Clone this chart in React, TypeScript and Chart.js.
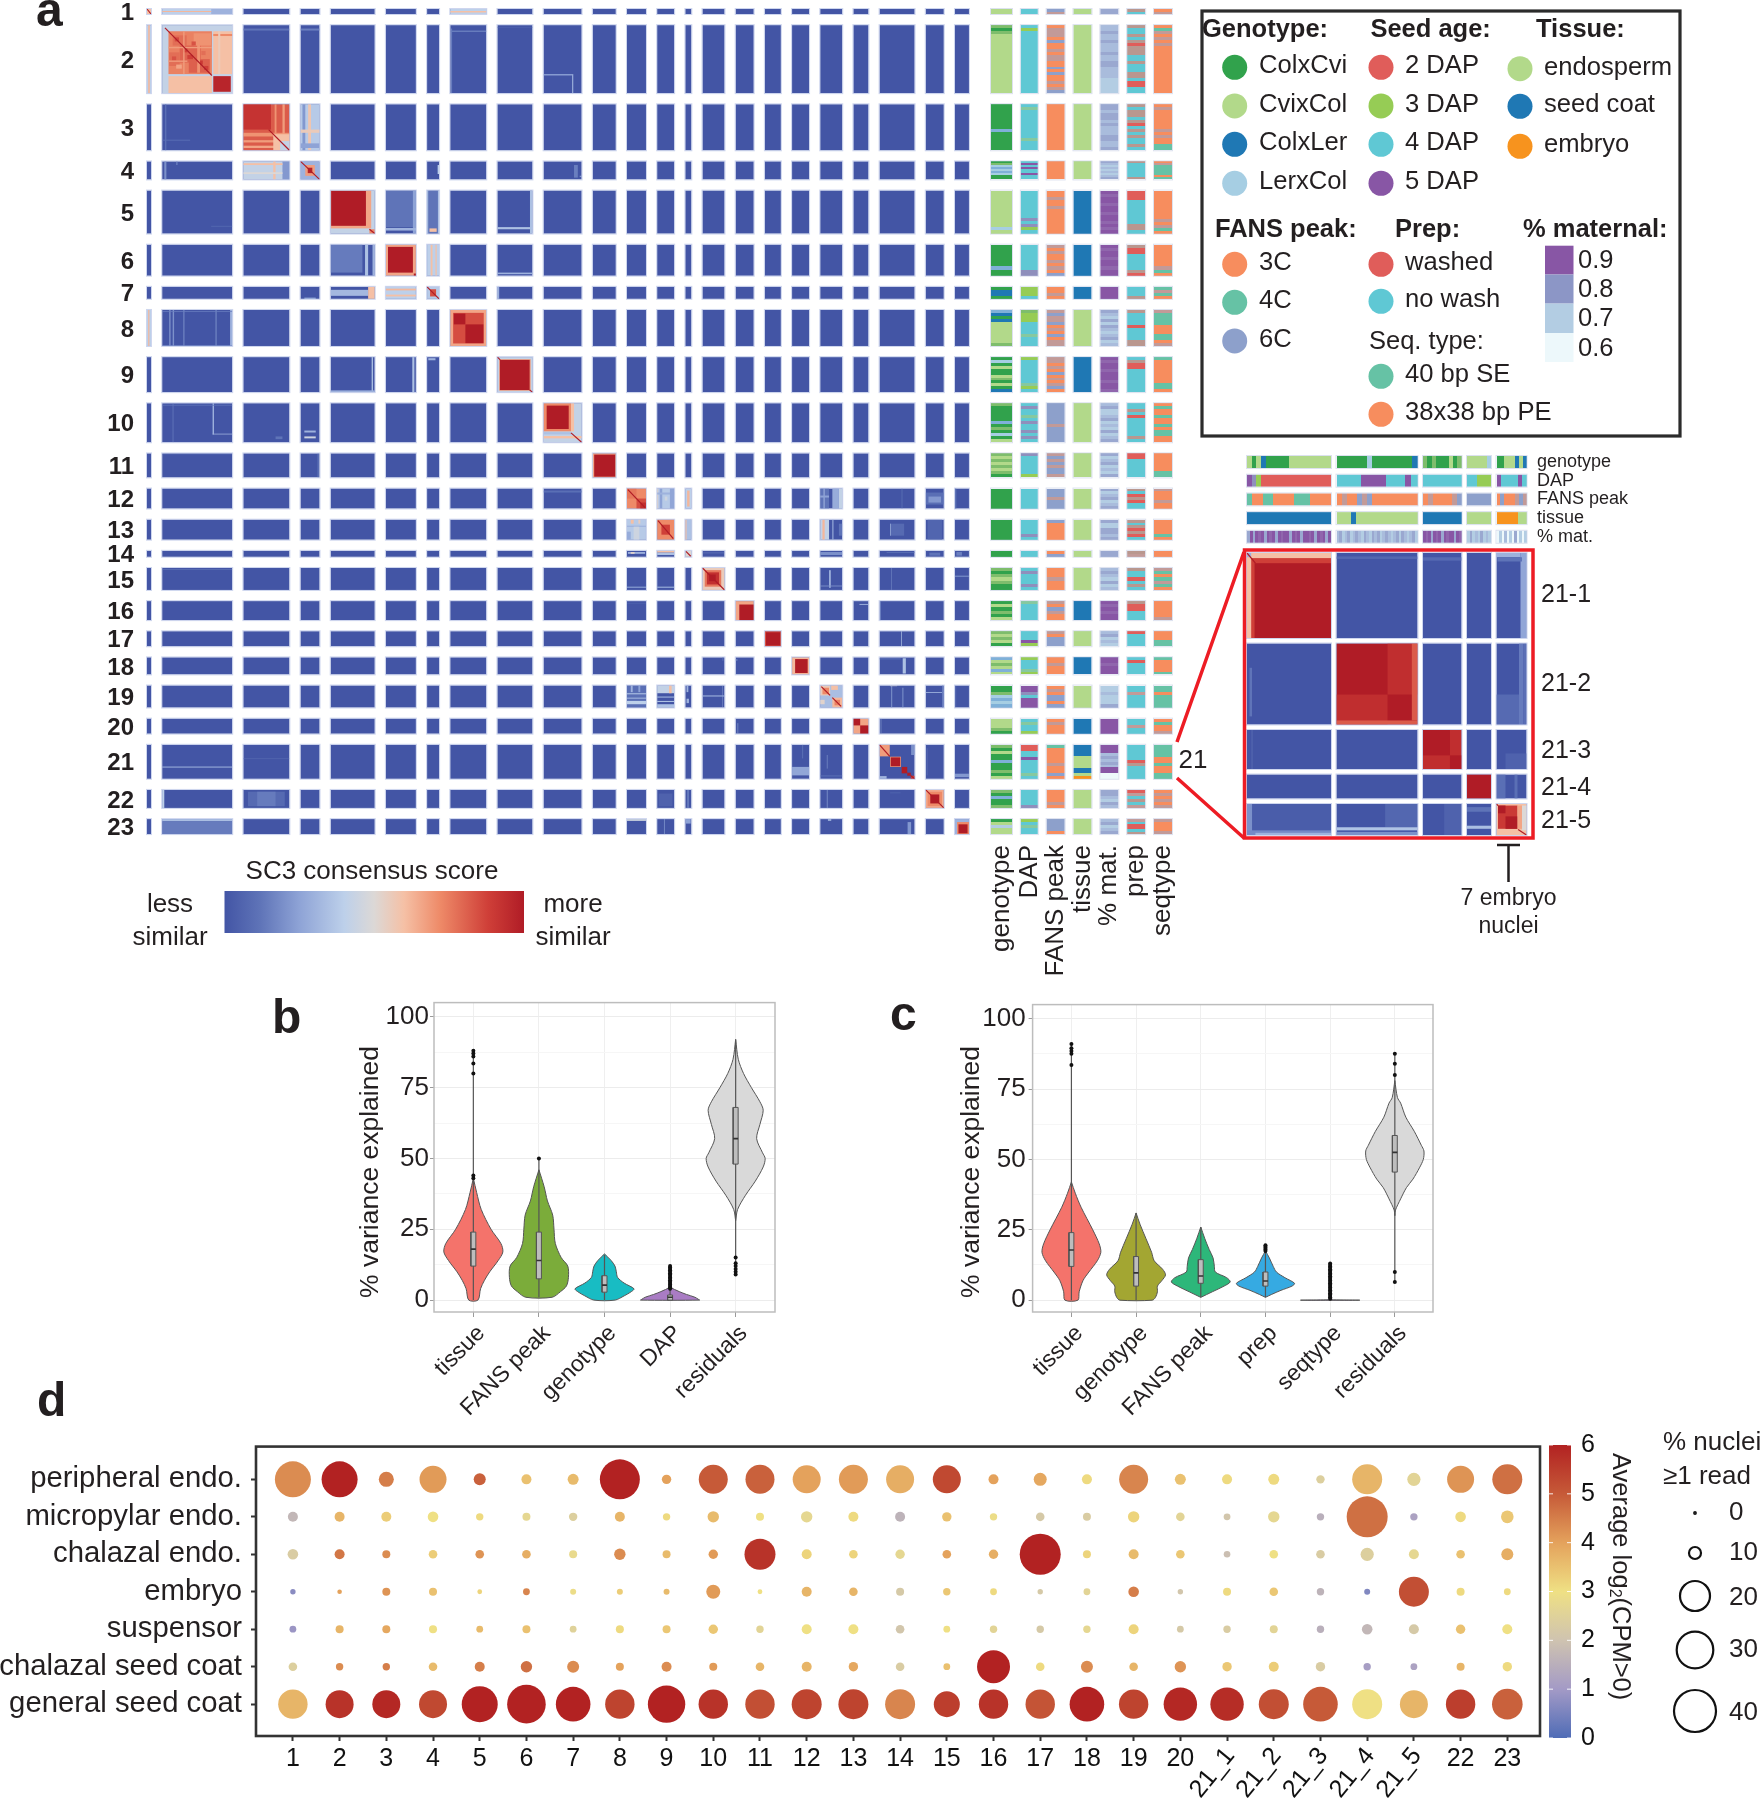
import React, { useEffect, useRef } from 'react';
import { Chart, registerables } from 'chart.js';
Chart.register(...registerables);

const FONT = '"Liberation Sans", Arial, sans-serif';
Chart.defaults.font.family = FONT;
Chart.defaults.color = '#231f20';

/* ---------- panel a: cluster sizes ---------- */
const clusterLabels = ['1','2','3','4','5','6','7','8','9','10','11','12','13','14','15','16','17','18','19','20','21','22','23'];
const colWidths = [4,70,46,19,44,30,12,36,35,38,23,19,17,6,22,18,16,17,22,15,35,18,14];
const rowHeights = [5,68,46,18,43,31,12,36,35,39,24,20,20,6,22,19,15,17,22,15,34,18,15];
const trackNames = ['genotype','DAP','FANS peak','tissue','% mat.','prep','seqtype'];
const trackWidths = [21,17,18,18,18,18,18];

/* SC3 consensus score stops */
const consensusStops: [number, string][] = [[0,'#4355a5'],[0.12,'#5f74b8'],[0.25,'#8ea3d6'],[0.4,'#bdd0ea'],[0.5,'#dcd8d6'],[0.6,'#f5c0a5'],[0.72,'#ee8a68'],[0.88,'#cf3f38'],[1,'#b01c26']];

/* [row, col, x0, y0, x1, y1, score] fractions of a cell, 1-based cluster index */
const heatPatches: number[][] = [
[1,1,0,0,1,1,.6],[1,2,0,0,1,1,.4],[1,2,.7,0,1,1,.3],[1,2,0,.4,.7,.6,.62],[1,8,0,0,1,1,.4],[1,8,0,.4,1,.7,.6],
[2,1,0,0,1,1,.4],[2,1,.3,0,.7,1,.62],
[2,2,0,0,1,1,.42],[2,2,.09,.09,.71,.72,.74],[2,2,.73,.09,1,.72,.6],[2,2,.09,.75,.71,1,.6],[2,2,.73,.75,.98,.98,.97],
[2,2,.15,.15,.35,.3,.78],[2,2,.25,.3,.55,.55,.8],[2,2,.38,.5,.68,.7,.81],[2,2,.1,.4,.25,.6,.78],[2,2,.45,.12,.7,.3,.7],[2,2,.73,.13,1,.16,.72],[2,2,.8,.09,.83,.72,.56],
[2,2,.18,.18,.24,.24,.86],[2,2,.3,.34,.36,.4,.88],[2,2,.42,.24,.48,.3,.84],[2,2,.36,.44,.44,.5,.88],[2,2,.5,.52,.58,.58,.9],[2,2,.6,.6,.66,.66,.88],[2,2,.14,.46,.2,.52,.84],[2,2,.56,.38,.62,.44,.78],[2,2,.2,.58,.28,.64,.66],[2,2,.5,.16,.54,.7,.7],[2,2,.09,.32,.71,.34,.68],[2,2,.3,.09,.32,.72,.68],[2,2,.09,.52,.36,.54,.68],
[2,3,0,.05,1,.08,.12],[2,4,0,.05,1,.08,.15],[2,8,.03,.05,.05,1,.2],[2,8,0,.08,1,.1,.15],[2,10,.75,.72,.78,1,.3],[2,10,0,.72,.75,.74,.25],[2,9,0,.03,1,.04,.05],
[3,2,.04,0,.06,1,.1],[3,2,0,.77,.4,.79,.1],
[3,3,0,0,1,1,.82],[3,3,0,0,.6,.55,.92],[3,3,0,.62,1,.7,.7],[3,3,0,.78,1,.83,.68],[3,3,0,.9,1,.95,.66],[3,3,.68,0,.72,.65,.7],[3,3,.85,0,.9,.65,.68],[3,3,.65,.65,1,1,.6],[3,3,.8,.8,1,1,.42],
[3,4,0,0,1,1,.38],[3,4,.1,0,.25,1,.22],[3,4,.4,0,.55,1,.58],[3,4,0,.55,1,.62,.56],[3,4,0,.85,1,.95,.25],
[4,2,.03,0,.06,1,.2],[4,2,.2,0,.22,.2,.15],
[4,3,0,0,1,1,.42],[4,3,.85,0,1,1,.22],[4,3,0,.1,.85,.2,.6],[4,3,.65,0,.7,1,.6],[4,3,0,.6,.85,.7,.5],
[4,4,0,0,1,1,.3],[4,4,.25,.2,.75,.8,.68],[4,4,.38,.35,.62,.65,.98],
[4,7,.88,.2,1,.7,.4],[4,10,.8,.2,.9,.9,.15],[4,10,.95,.8,1,.85,.3],
[5,5,0,0,1,1,.42],[5,5,0,0,.92,.88,.66],[5,5,.01,.01,.8,.82,1],[5,5,.88,.9,1,1,.72],
[5,6,0,0,1,.85,.12],[5,6,.9,0,1,1,.25],[5,6,0,.87,1,.93,.3],
[5,7,.1,0,.9,1,.12],[5,7,0,0,.1,1,.35],[5,7,.9,0,1,1,.35],[5,7,.2,.88,.8,.96,.6],
[5,9,.93,0,1,1,.35],[5,9,0,.85,1,.9,.35],[5,2,.7,.82,1,.84,.08],
[6,5,0,0,.72,.9,.14],[6,5,.78,0,.85,1,.35],[6,5,.95,0,1,1,.3],
[6,6,0,0,1,1,.66],[6,6,.07,.07,.9,.9,1],[6,6,.93,.93,1,1,1],
[6,7,0,0,1,1,.4],[6,7,.3,0,.45,1,.6],[6,7,.7,0,.8,1,.6],[6,9,0,.9,1,.95,.3],
[7,5,0,.25,.85,.75,.32],[7,5,.85,0,1,1,.6],[7,6,0,0,1,1,.4],[7,6,0,.15,1,.3,.62],[7,6,0,.65,1,.8,.6],
[7,7,0,0,1,1,.38],[7,7,.25,.2,.75,.8,.85],[7,9,0,0,.05,1,.3],[7,4,.2,.9,.8,1,.3],
[8,1,0,0,1,1,.4],[8,1,.3,0,.6,1,.62],
[8,2,.1,0,.12,1,.2],[8,2,.15,0,.17,1,.2],[8,2,.3,0,.32,1,.15],[8,2,.76,0,.78,1,.15],[8,2,.97,0,1,1,.3],[8,2,0,.98,1,1,.2],[8,2,0,.03,1,.05,.15],
[8,8,0,0,1,1,.66],[8,8,.08,.08,.93,.93,.85],[8,8,.1,.1,.42,.4,1],[8,8,.42,.4,.92,.92,1],
[9,5,.93,0,.96,1,.35],[9,5,0,.95,1,1,.3],[9,6,.88,0,.95,1,.35],[9,7,.1,.03,.7,.09,.3],
[9,9,0,0,1,1,.42],[9,9,.05,.06,.95,.96,.68],[9,9,.07,.08,.92,.94,1],
[10,2,.72,0,.74,.8,.3],[10,2,.72,.78,1,.8,.3],[10,2,.15,0,.16,1,.15],[10,2,0,.04,1,.06,.12],[10,4,.2,.7,.8,.75,.3],[10,4,.2,.85,.8,.9,.45],[10,3,.7,.85,.85,.92,.12],
[10,10,0,0,1,1,.42],[10,10,0,0,.72,.72,.72],[10,10,.08,.06,.66,.66,1],[10,10,0,.74,.72,.8,.35],[10,10,0,.84,1,.9,.6],[10,10,.72,0,.8,.72,.6],
[11,11,0,0,1,1,.66],[11,11,.06,.05,.97,.97,1],[11,4,.9,0,.95,1,.15],[11,2,0,.02,1,.04,.08],
[12,10,.0,.1,1,.2,.1],[12,12,0,0,1,1,.72],[12,12,.5,.5,1,1,.85],[12,12,0,0,.5,.5,.76],[12,12,.7,.7,1,1,.94],
[12,13,0,0,1,1,.38],[12,13,.15,0,.3,1,.25],[12,13,0,0,.06,1,.52],[12,13,0,.2,1,.3,.3],[12,13,.75,0,1,1,.26],[12,13,.45,.4,.6,.6,.45],
[12,14,0,0,1,1,.4],[12,14,.3,.1,.7,.9,.62],[12,19,0,0,.4,1,.12],[12,19,.15,0,.2,1,.3],[12,19,.55,0,.85,1,.28],[12,19,.85,0,1,1,.42],[12,19,0,.35,.4,.45,.25],
[12,21,.63,0,.65,1,.12],[12,22,0,.2,1,.8,.1],[12,22,.15,.4,.85,.7,.22],[12,23,0,0,.1,1,.12],
[13,12,0,0,1,1,.38],[13,12,.2,0,.35,.2,.6],[13,12,.6,0,.7,.2,.55],[13,12,0,.3,1,.36,.3],[13,12,.35,.35,.65,1,.45],[13,12,0,.6,.2,1,.28],
[13,13,0,0,1,1,.72],[13,13,.25,.25,.75,.75,.88],[13,14,0,0,1,1,.35],[13,14,0,0,.2,1,.6],
[13,19,0,0,.4,1,.42],[13,19,.1,0,.2,1,.62],[13,19,.55,0,.6,1,.3],[13,19,.85,.2,1,.8,.12],[13,21,.3,.2,.7,.8,.08],[13,21,.3,.2,.32,.8,.3],[13,22,.1,0,.9,1,.06],
[14,12,.05,.2,.95,.5,.3],[14,12,.2,.2,.4,.5,.52],[14,13,0,0,1,.3,.6],[14,13,0,.3,1,.7,.35],[14,14,0,0,1,1,.5],[14,15,0,.3,1,.4,.15],[14,19,0,.2,1,.7,.2],[14,22,.2,.3,.8,.8,.12],[14,23,.1,.2,.5,.8,.15],[14,21,.2,.2,1,.35,.1],
[15,2,0,.06,1,.09,.12],[15,12,0,.85,1,.9,.25],[15,13,0,.85,1,.9,.3],[15,15,0,0,1,1,.56],[15,15,.1,.1,.85,.85,.76],[15,15,.2,.2,.75,.75,.93],[15,15,.3,.3,.6,.6,1],
[15,19,.4,.1,.48,.9,.3],[15,19,0,.8,1,.84,.2],[15,21,.33,0,.35,1,.15],[15,23,0,.35,1,.4,.2],[15,22,.98,0,1,1,.3],
[16,16,0,0,1,1,.66],[16,16,.2,.18,1,1,1],[16,20,.4,.15,1,.2,.3],[16,21,.02,0,.04,1,.2],[16,12,0,.1,1,.12,.08],
[17,17,0,0,1,1,.84],[17,17,.07,.07,.95,.95,1],[17,21,.62,0,.64,1,.35],
[18,18,0,0,1,1,.62],[18,18,.18,.1,.92,.92,1],[18,21,.66,.05,.75,.95,.35],[18,21,0,.05,.6,.12,.1],[18,16,0,.1,.1,.2,.15],[18,15,.9,0,.95,.2,.1],
[19,12,0,0,1,1,.1],[19,12,0,.35,1,.4,.35],[19,12,0,.55,1,.6,.3],[19,12,0,.7,1,.85,.4],[19,12,.2,0,.3,.3,.3],[19,12,.6,0,.7,.3,.25],
[19,13,0,0,1,.35,.42],[19,13,.7,0,.85,.35,.6],[19,13,0,.5,1,.55,.3],[19,13,0,.7,1,.75,.35],[19,13,0,.85,1,1,.35],
[19,14,.2,0,.5,.3,.3],[19,14,.2,.6,.6,.8,.3],[19,15,0,.45,1,.5,.3],[19,15,.9,0,.92,1,.25],
[19,19,0,0,1,1,.34],[19,19,0,0,.45,.45,.56],[19,19,.1,.1,.4,.4,.72],[19,19,.55,.55,1,1,.62],[19,19,.65,.65,.9,.9,.74],[19,19,.5,0,.8,.2,.6],[19,19,0,.65,.2,.85,.52],
[19,21,.33,0,.36,1,.2],[19,21,.65,.1,.68,1,.2],[19,21,.3,0,.5,.03,.5],[19,22,0,.3,1,.34,.3],[19,23,.05,0,.08,1,.2],[19,22,.9,0,1,1,.14],
[20,16,.1,.3,.14,1,.2],[20,20,0,0,1,1,.66],[20,20,0,0,.45,.45,1],[20,20,.45,.45,1,1,1],[20,21,.03,0,.05,1,.2],
[21,2,0,.64,1,.67,.3],[21,18,0,.65,1,.9,.26],[21,18,.6,0,.65,.4,.12],[21,19,.3,.3,.33,.7,.2],[21,19,0,.9,1,.93,.1],[21,22,.05,.1,.1,.9,.08],[21,23,0,.85,1,.95,.22],[21,3,0,.4,1,.42,.08],
[21,21,0,0,.29,.34,.68],[21,21,.3,.35,.61,.65,.68],[21,21,.32,.37,.59,.63,1],[21,21,.63,.65,.79,.84,1],[21,21,.79,.82,.89,.91,1],[21,21,.89,.91,1,1,.88],[21,21,.9,0,1,.3,.2],[21,21,0,.92,.2,1,.3],
[22,2,0,0,.03,1,.4],[22,3,.1,.1,.9,.9,.08],[22,3,.3,.1,.7,.9,.14],[22,13,.1,.2,.9,.9,.05],[22,19,.3,0,.33,1,.25],[22,21,.3,.15,.6,.18,.1],[22,14,.3,0,.6,1,.14],
[22,22,0,0,1,1,.65],[22,22,.1,.1,.9,.9,.72],[22,22,.25,.25,.75,.75,1],
[23,2,0,0,1,.15,.34],[23,2,0,.15,1,1,.14],[23,12,0,0,1,.12,.45],[23,13,.4,0,.45,1,.2],[23,14,.1,0,.9,.3,.25],[23,21,.8,.2,.9,1,.22],[23,19,.35,0,.5,.12,.3],
[23,23,0,0,1,1,.3],[23,23,.15,.2,1,1,.72],[23,23,.25,.35,.9,.95,1],
];
const heatDiagonals: number[][] = [
[1,1,0,0,1,1],[2,2,.04,.04,.71,.74],[3,3,.55,.55,1,1],[4,4,0,0,1,1],[5,5,.88,.9,1,1],[7,7,0,0,1,1],[9,9,0,0,.08,.08],[9,9,.92,.94,1,1],[10,10,.72,.76,1,1],
[12,12,.05,.05,.95,.95],[13,13,.05,.05,.95,.95],[14,14,.1,.1,.9,.9],[15,15,0,0,1,1],[19,19,.05,.05,.45,.45],[19,19,.55,.55,.95,.95],[21,21,0,0,.29,.34],[21,21,.88,.9,1,1],[22,22,0,0,1,1],
];

/* annotation tracks: one letter per stripe, read top to bottom */
const genotypeTrack = ['L','hGhLLLLLLLLLLLLLLLLLLLL','GGGGGGGGkGGGGGG','GhSkSkSGG','LLLLLLLLLLLLSL','GGGGGGGkGG','GBBG','kBGBLLLLLLLh','GSGLGGLhGLGB','hGGGGGkGhGSGL','hLhLhLhG','G','G','G','hGhLhGG','GLGhGL','hLhLG','kLhLkL','GGhSkSk','LLLhG','hGLGGkGGhGL','hGkGGh','GLxLL'];
const dapTrack = ['T','TYTTTTTTTTTTTTTTTTTTTTT','TuTTTTTTTTTuTTT','TPTPTTPTT','TTTTTTTTTdTdYT','TTTTTTTTdd','YYYT','hYYYTTTTuTTT','YTTTTTTTTuYT','TdTTuTdTTdTdT','dTTTTTTY','T','TTTTTdT','T','TdTTTdT','uTTTTT','TTTPY','YTTTuY','PPdTPPP','TuTTY','RRTTPTTTTuT','TTTTTd','YTuTT'];
const fansTrack = ['Vq','OqqqOVOOqOqqOOVOVOOqOqV','O','O','OOqOOqOOOOOOOO','qOqOOqOqOV','OOqO','qVqqVOqOVOqq','qqOqOVOqOqVO','VVVVVVVqVVVVV','qVqVqVVq','VVVqVVV','VOOOOOO','OV','OOOqOOO','qOVqOO','qOVVV','OOqOOO','OqOVVOV','OqOOO','NOOOOOqOOVO','OOOOqO','VVVVO'];
const tissueTrack = ['L','L','L','L','B','B','B','L','B','L','L','L','L','L','L','B','L','B','L','B','BBBBBBBLLLLLLLLBBBLLEE','L','L'];
const maternalTrack = ['v','wwvwwvwwwvwwvvwwwwxxxxx','vvwvvwvwwwvvwwv','vwxwxwxwv','PjPPjPPjPPjPjP','PjPPjPPjPP','P','vwxvxvwxwvxw','PjPPjPPPjPPj','wvxxwvxwxvxwv','vxwvxwxv','vxwvxwv','vxxvvwv','v','wvwxvxw','PjPjPP','wvxwx','PPjPPP','xxwxxxv','P','PPPwvwvwPPzz','vvwxvw','wvxwv'];
const prepTrack = ['rT','rTTrTrRrrrTTrTTTrrTRRTT','rTrrTrRTrTrTTrT','rTTTTTTTr','RRRTTTTTTTTrrT','rRRTTTTTrR','TTTr','rTTTTRTTTTrr','TrRRTTTTTTTT','TTrTRTTTTTTrT','RRTTTTTT','rTRrRTT','rTrRrRT','rq','rTTRTrT','rRRTTT','RTTTT','TRTTTT','TTqTTTT','TTqTT','TTTTTRrTTTT','RqTrTq','qTRRTr'];
const seqTrack = ['Oq','ONqOqOqOOOOOOOOOOOOOOOO','OqOOOOOOqOqOONN','OqNNNNNON','OOOOOOOOOOqOqNO','OOOOOOOqNO','NqNO','qNNNNOOONNOq','NOOOOOOOONNO','ONOONOONONNOO','OOOOOONN','qOOOqOO','OOOOONO','O','qNONqNO','OOOOOq','OOONN','NOOOON','NNONNNN','ONOOq','NNNNOONOONN','OqOqOq','qOOOq'];
const trackData = [genotypeTrack, dapTrack, fansTrack, tissueTrack, maternalTrack, prepTrack, seqTrack];

const stripeColors: Record<string,string> = {
  G:'#31a24c', L:'#b2d98a', B:'#1f78b4', S:'#a6cee3', h:'#7ebd6c', k:'#7fb0d8',
  R:'#e05d5a', Y:'#96cc55', T:'#5fc8d4', P:'#8856a5', u:'#86c8a0', d:'#8f8fbc',
  O:'#f78d5e', N:'#66c2a5', V:'#8da0cb', q:'#c29a98', r:'#b9978f', E:'#f7931e',
  j:'#9066ad', v:'#9aa8d0', w:'#a9bcdc', x:'#b3cde3', z:'#edf8fb',
};

/* inset: cluster 21 */
const insetLabels = ['21-1','21-2','21-3','21-4','21-5'];
const insetWidths = [84,81,38.5,24,30];
const insetHeights = [85,81,39,24,31];
const insetTrackNames = ['genotype','DAP','FANS peak','tissue','% mat.'];
const insetGenotype = ['LGLBGGGGGLLLLLLLLL','GGGGGGSGGGGGGGGB','hGhGGGLGh','LLLLLS','GGLLLBLB'];
const insetDap = ['PdYRRRRRRRRRRRRRRR','TTTTPPPPTTTPT','T','TTYYY','PTTTTPT'];
const insetFans = ['NOONNOOOONNNOOOO','OqOOVqVOOOOOOOOO','OqOOOOqV','V','OVOOOqVq'];
const insetTissue = ['B','LLLBLLLLLLLLLLLLL','B','L','EEEEELL'];
const insetMaternal = ['vPvPjPvPjPvPjPPvPjPvPPjPvPjPvP','wvxwvxwvwxvwxvwvxwvwxwvxvwxwvx','PjPvPjPvPjPPvPj','xvxwxvxwx','zxzwzxzvzxzx'];
const insetTracks = [insetGenotype, insetDap, insetFans, insetTissue, insetMaternal];
const insetPatches: number[][] = [
[1,1,0,0,1,1,.6],[1,1,.05,.06,1,1,.88],[1,1,.09,.12,1,1,1],[1,1,0,0,.05,.05,.3],
[1,2,0,.04,1,.07,.07],[1,3,0,.05,1,.09,.08],[1,5,.8,0,1,1,.26],[1,5,0,0,.8,.05,.3],[1,5,.03,.05,.85,.1,.12],
[2,1,.03,.3,.06,.9,.12],
[2,2,0,0,1,1,1],[2,2,.63,0,1,.63,.94],[2,2,0,.63,.63,1,.94],[2,2,.93,0,1,.95,.82],[2,2,0,.95,1,1,.82],
[2,5,.75,0,.9,1,.14],[2,5,0,.63,.75,1,.08],[2,5,.9,0,1,1,.1],
[3,3,0,0,1,1,.94],[3,3,0,0,.7,.65,1],[3,3,.7,.65,1,1,1],
[3,1,.05,0,.07,1,.05],[3,5,.3,.6,1,1,.05],
[4,4,0,0,1,1,1],[4,5,0,0,.3,1,.1],[4,5,.6,0,.7,1,.1],
[5,1,0,0,1,1,.03],[5,1,0,0,.06,1,.2],[5,1,0,.85,1,1,.18],[5,1,.1,.93,1,1,.3],
[5,2,.6,0,1,.75,.07],[5,2,0,.75,1,.85,.36],[5,2,0,.9,1,1,.2],[5,3,.55,0,1,1,.05],[5,4,0,.1,1,.25,.12],[5,4,0,.7,1,.8,.34],
[5,5,0,0,1,1,.6],[5,5,.05,.05,.7,.8,.9],[5,5,.05,.05,.3,.3,1],[5,5,.3,.4,.7,.8,1],[5,5,.7,.05,.85,.8,.66],[5,5,.85,.05,1,.85,.5],
];
const insetDiagonals: number[][] = [[1,1,0,0,.1,.12],[5,5,0,0,.05,.05],[5,5,.72,.82,1,1]];

/* panel b violins: levels, half widths, box [q1,median,q3], whisker [lo,hi], outliers */
const bNames = ['tissue','FANS peak','genotype','DAP','residuals'];
const bColors = ['#f4736b','#7bac3a','#18bcc3','#a97cc4','#d9d9d9'];
const bTissueLevels = [43,38,32,25,20,17,14,10,7,4,0];
const bTissueWidths = [0,.05,.12,.27,.42,.45,.38,.25,.17,.11,.07];
const bFansLevels = [46,40,35,30,25,20,15,12,8,5,3,1];
const bFansWidths = [0,.08,.13,.21,.23,.25,.34,.44,.45,.42,.33,.2];
const bGenoLevels = [16.3,14,12,10,8,6,4,3,1.5,0];
const bGenoWidths = [0,.1,.16,.18,.2,.3,.45,.41,.3,.16];
const bDapLevels = [4.5,3,2,1,.3,0];
const bDapWidths = [0,.14,.25,.38,.43,.45];
const bResidLevels = [92,85,80,75,70,67,62,57,52,50,47,42,37,32,28];
const bResidWidths = [0,.04,.12,.24,.37,.42,.37,.32,.41,.45,.42,.3,.15,.03,0];
const bBoxes = [[12,18,24],[7.5,14,24],[2.8,5.3,8.6],[0,1,1.8],[48,57,68]];
const bWhiskers = [[0,88],[1,50],[0,16],[0,12],[9,92]];
const bOutliers = [[43,44,80,83.5,86,87,88],[50],[],[4,4.5,5,5.5,6,6.5,7,7.5,8,8.5,9,9.5,10,10.5,11,11.5,12],[9,10,11,12,13,15]];

/* panel c violins */
const cNames = ['tissue','genotype','FANS peak','prep','seqtype','residuals'];
const cColors = ['#f4736b','#a3a632','#2db77a','#36aae2','#c77cff','#d9d9d9'];
const cTissueLevels = [42,38,33,25,20,17,14,10,7,3,0];
const cTissueWidths = [0,.06,.15,.33,.43,.455,.4,.27,.18,.12,.1];
const cGenoLevels = [31,27,22,17,14,11,9,7,5,3,1,0];
const cGenoWidths = [0,.06,.15,.24,.28,.41,.455,.4,.33,.33,.3,.25];
const cFansLevels = [26,22,18,15,12,10,8,6.5,5,3,1];
const cFansWidths = [0,.06,.13,.19,.21,.225,.4,.455,.36,.18,0];
const cPrepLevels = [17.5,15,12,10,8,6,5,3.5,2,1];
const cPrepWidths = [0,.06,.12,.17,.3,.45,.41,.24,.09,0];
const cSeqLevels = [.5,.15,0];
const cSeqWidths = [0,.01,.455];
const cResidLevels = [78,72,70,65,60,55,53,50,47,43,40,36,32,30];
const cResidWidths = [0,.04,.09,.17,.3,.41,.45,.44,.38,.28,.18,.09,.01,0];
const cBoxes = [[12,17.8,24],[5,9.7,15.5],[6,8.6,14.4],[5,6.8,10],[0,.1,.2],[45.5,52.5,58.5]];
const cWhiskers = [[0,91],[0,31],[1,26],[1,19.5],[0,13],[6.5,87.5]];
const cOutliers = [[83.5,87.5,88.5,89.5,91],[],[],[17.5,18,18.5,19,19.5],[.5,1,1.5,2,2.5,3,3.5,4,4.5,5,5.5,6,6.5,7,7.5,8,8.5,9,9.5,10,10.5,11,11.5,12,12.5,13],[6.5,10,80,84,87.5]];

/* panel d dot plot */
const dotClusters = ['1','2','3','4','5','6','7','8','9','10','11','12','13','14','15','16','17','18','19','20','21_1','21_2','21_3','21_4','21_5','22','23'];
const dotTissues = ['peripheral endo.','micropylar endo.','chalazal endo.','embryo','suspensor','chalazal seed coat','general seed coat'];
const peripheralR = [18,18,7.5,13.5,6,5,5.5,20,4.7,14.5,14.5,14,14.5,14,14,5,6.5,5,14.5,5.5,5,5.5,4.2,15,6.6,13.5,15];
const peripheralV = [4.3,6,4.5,4.1,4.9,3.5,3.6,6,4,5,4.9,4,4.1,3.8,5.3,4,3.9,3.1,4.4,3.5,3.1,3.1,2.4,3.7,2.6,4.2,4.7];
const micropylarR = [5,5,5,5.3,3.7,4,4.2,5,3.7,5.7,4,5.7,5,5,4.7,3.7,4.3,4,5.7,4.3,3.4,5.7,3.7,20.5,3.7,5.3,6.3];
const micropylarV = [1.7,3.7,3.3,3,3.1,2.7,2.4,3.7,3.1,3.6,3,2.7,3.1,1.6,3.5,2.9,2.2,2.3,3.2,2.6,2.1,2.7,1.5,4.7,1.2,3.1,3.4];
const chalazalR = [5.3,5,4,4.3,4.3,4.3,4,5.7,4,4.7,15.5,5,4.3,4.7,4.3,4.7,20.5,4,5,4.3,3.3,4.3,4.3,6.6,5,4.3,6];
const chalazalV = [2.3,4.6,4.3,3.3,4.2,3.8,2.8,4.3,3.6,4.1,5.7,3.2,3.2,2.7,4,3.8,6,3.2,3.6,3.4,1.9,3,2.3,2.4,2.7,3.5,3.8];
const embryoR = [2.7,2.3,4,4,2.4,3.4,3,3,3,7,2.4,5,4.3,4,3.7,3.4,2.7,3.4,5.3,2.7,4,4.3,3.7,3,15,4,3.4];
const embryoV = [.7,4,4.2,3.5,3.2,4.4,2.9,3.3,3.6,4.1,3,3.7,3.7,2.2,3.4,3.1,2.2,2.6,4.5,2.1,3.1,3.4,1.6,.6,5.2,3.1,3.1];
const suspensorR = [3.4,4,4,4,3.4,4,3.4,4,4,4.7,3.7,5,5,4.3,3.4,3.7,3.7,3.7,5,3.4,3.7,4,3.7,5.3,5,4.7,5];
const suspensorV = [.9,3.7,3.9,3,3.6,3.5,2.5,3.1,3.4,3.4,2.6,3,3,2.1,3,2.6,2.2,2.7,3.2,2.2,2.3,2.6,1.5,1.7,2.2,3.5,3];
const chalSeedR = [4.3,3.7,3.7,4.3,5,5.7,6,4,5,4,4.3,5,4.7,4.3,3.4,16.5,4.3,6,4.3,5.7,4.7,5,4.7,3.7,3.4,4,4.7];
const chalSeedV = [2.4,4.3,4.5,3.6,4.5,4.7,4.3,4,4.3,4.1,3.7,3.7,3.9,2.3,3.5,6,3.1,4.3,3.7,4.2,3.4,3.3,2.3,1.1,1.2,3.7,3.1];
const generalSeedR = [14.7,14,14,14,18,19.3,17.3,14.7,18.7,14.7,14.7,15,15,15,13,14.7,14.7,17.3,14.7,16.7,16.7,15,17.3,15,14,14.7,15.3];
const generalSeedV = [3.7,5.7,5.9,5.3,6,6,6,5.4,6,5.7,5.2,5.4,5.4,4.4,5.5,5.7,5.1,6,5.4,5.9,5.8,5.2,5,3,3.7,5.5,4.9];
const dotRadii = [peripheralR, micropylarR, chalazalR, embryoR, suspensorR, chalSeedR, generalSeedR];
const dotValues = [peripheralV, micropylarV, chalazalV, embryoV, suspensorV, chalSeedV, generalSeedV];
const cpmStops: [number,string][] = [[0,'#4f6cb6'],[1,'#a39ac6'],[2,'#cfc3b0'],[3,'#efe084'],[4,'#e4a25c'],[5,'#c65a38'],[6,'#b22222']];
const cpmTicks = [0,1,2,3,4,5,6];
const sizeLegendPct = ['0','10','20','30','40'];
const sizeLegendR = [.8,6,15,18.3,21];

/* legend contents */
const genotypeLegend: [string,string][] = [['ColxCvi','#31a24c'],['CvixCol','#b2d98a'],['ColxLer','#1f78b4'],['LerxCol','#a6cee3']];
const seedAgeLegend: [string,string][] = [['2 DAP','#e05d5a'],['3 DAP','#96cc55'],['4 DAP','#5fc8d4'],['5 DAP','#8856a5']];
const tissueLegend: [string,string][] = [['endosperm','#b2d98a'],['seed coat','#1f78b4'],['embryo','#f7931e']];
const fansLegend: [string,string][] = [['3C','#f78d5e'],['4C','#66c2a5'],['6C','#8da0cb']];
const prepLegend: [string,string][] = [['washed','#e05d5a'],['no wash','#5fc8d4']];
const seqLegend: [string,string][] = [['40 bp SE','#66c2a5'],['38x38 bp PE','#f78d5e']];
const maternalLegend: [string,string][] = [['0.9','#8856a5'],['0.8','#8c96c6'],['0.7','#b3cde3'],['0.6','#edf8fb']];

/* ---------- helpers ---------- */
const hex = (c: string) => [1,3,5].map(i => parseInt(c.slice(i,i+2),16));
function ramp(stops: [number,string][], v: number) {
  if (v <= stops[0][0]) return stops[0][1];
  for (let i = 1; i < stops.length; i++) {
    if (v <= stops[i][0]) {
      const t = (v - stops[i-1][0]) / (stops[i][0] - stops[i-1][0]);
      const a = hex(stops[i-1][1]), b = hex(stops[i][1]);
      return `rgb(${a.map((x,k)=>Math.round(x+(b[k]-x)*t)).join(',')})`;
    }
  }
  return stops[stops.length-1][1];
}
function edges(sizes: number[], gap: number, start = 0) {
  let p = start;
  return sizes.map(s => { const e: [number,number] = [p, p+s]; p += s+gap; return e; });
}
function text(ctx: any, s: string, x: number, y: number, size: number, o: any = {}) {
  ctx.save();
  ctx.translate(x, y);
  if (o.rot) ctx.rotate(o.rot);
  ctx.font = `${o.bold?'bold ':''}${size}px ${FONT}`;
  ctx.textAlign = o.align || 'left';
  ctx.textBaseline = o.base || 'middle';
  ctx.fillStyle = o.color || '#231f20';
  ctx.fillText(s, 0, 0);
  ctx.restore();
}
function drawGrid(chart: any, cols: [number,number][], rows: [number,number][], patches: number[][], diags: number[][]) {
  const { ctx, scales: { x, y } } = chart;
  const X = (v: number) => x.getPixelForValue(v), Y = (v: number) => y.getPixelForValue(v);
  ctx.save();
  rows.forEach(r => cols.forEach(c => {
    ctx.fillStyle = ramp(consensusStops, 0);
    ctx.fillRect(X(c[0]), Y(r[0]), X(c[1])-X(c[0]), Y(r[1])-Y(r[0]));
  }));
  patches.forEach(([ri,ci,x0,y0,x1,y1,s]) => {
    const c = cols[ci-1], r = rows[ri-1];
    const l = c[0]+(c[1]-c[0])*x0, rr = c[0]+(c[1]-c[0])*x1, t = r[0]+(r[1]-r[0])*y0, b = r[0]+(r[1]-r[0])*y1;
    ctx.fillStyle = ramp(consensusStops, s);
    ctx.fillRect(X(l), Y(t), X(rr)-X(l), Y(b)-Y(t));
  });
  ctx.strokeStyle = '#b01c26'; ctx.lineWidth = 1.2;
  diags.forEach(([ri,ci,x0,y0,x1,y1]) => {
    const c = cols[ci-1], r = rows[ri-1];
    ctx.beginPath();
    ctx.moveTo(X(c[0]+(c[1]-c[0])*x0), Y(r[0]+(r[1]-r[0])*y0));
    ctx.lineTo(X(c[0]+(c[1]-c[0])*x1), Y(r[0]+(r[1]-r[0])*y1));
    ctx.stroke();
  });
  ctx.strokeStyle = 'rgba(190,200,232,0.75)'; ctx.lineWidth = 1;
  rows.forEach(r => cols.forEach(c => ctx.strokeRect(X(c[0])-.5, Y(r[0])-.5, X(c[1])-X(c[0])+1, Y(r[1])-Y(r[0])+1)));
  ctx.restore();
}
function drawStripes(chart: any, s: string, xr: [number,number], yr: [number,number], vertical: boolean) {
  const { ctx, scales: { x, y } } = chart;
  const X0 = x.getPixelForValue(xr[0]), X1 = x.getPixelForValue(xr[1]);
  const Y0 = y.getPixelForValue(yr[0]), Y1 = y.getPixelForValue(yr[1]);
  const n = s.length;
  for (let i = 0; i < n; i++) {
    ctx.fillStyle = stripeColors[s[i]];
    if (vertical) {
      const a = Y0 + (Y1-Y0)*i/n, b = Y0 + (Y1-Y0)*(i+1)/n;
      ctx.fillRect(X0, Math.round(a), X1-X0, Math.round(b)-Math.round(a));
    } else {
      const a = X0 + (X1-X0)*i/n, b = X0 + (X1-X0)*(i+1)/n;
      ctx.fillRect(Math.round(a), Y0, Math.round(b)-Math.round(a), Y1-Y0);
    }
  }
  ctx.strokeStyle = 'rgba(205,212,232,0.7)'; ctx.lineWidth = 1;
  ctx.strokeRect(X0-.5, Y0-.5, X1-X0+1, Y1-Y0+1);
}
const hiddenScale = (min: number, max: number, reverse = false) => ({ type:'linear', display:false, min, max, reverse });
const baseOptions = { responsive:false, maintainAspectRatio:false, animation:false as const, events:[] as string[], plugins:{ legend:{display:false}, tooltip:{enabled:false} }, layout:{ padding:0, autoPadding:false } };

/* ---------- chart configs ---------- */
const mainLeft = 60, mainTop = 0;
function heatConfig() {
  const cols = edges(colWidths, 11.18);
  const rows = edges(rowHeights, 11.14);
  const tracks = edges(trackWidths, 8.83, 844);
  return {
    type:'scatter',
    data:{ datasets:[{ data:[] as any[] }] },
    options:{ ...baseOptions, scales:{ x:hiddenScale(-(147-mainLeft), 1180-147), y:hiddenScale(-(9-mainTop), 990-9, true) } },
    plugins:[{ id:'heat', beforeDatasetsDraw(chart: any) {
      const { ctx, scales:{x,y} } = chart;
      drawGrid(chart, cols, rows, heatPatches, heatDiagonals);
      rows.forEach((r,i) => {
        text(ctx, clusterLabels[i], x.getPixelForValue(-13), y.getPixelForValue((r[0]+r[1])/2)+2, 24, { bold:true, align:'right' });
        trackData.forEach((tr,k) => drawStripes(chart, tr[i], tracks[k], r, true));
      });
      tracks.forEach((t,k) => text(ctx, trackNames[k], x.getPixelForValue((t[0]+t[1])/2), y.getPixelForValue(836), 26, { rot:-Math.PI/2, align:'right' }));
    }}],
  };
}
function insetConfig() {
  const cols = edges(insetWidths, 5.5);
  const rows = edges(insetHeights, 5.5);
  const trackRows = edges([12,12,12,12,12], 6.7, -97);
  return {
    type:'scatter',
    data:{ datasets:[{ data:[] as any[] }] },
    options:{ ...baseOptions, scales:{ x:hiddenScale(-7, 393), y:hiddenScale(-103, 397, true) } },
    plugins:[{ id:'inset', beforeDatasetsDraw(chart: any) {
      const { ctx, scales:{x,y} } = chart;
      const X = (v: number) => x.getPixelForValue(v), Y = (v: number) => y.getPixelForValue(v);
      drawGrid(chart, cols, rows, insetPatches, insetDiagonals);
      insetTracks.forEach((tr,k) => {
        tr.forEach((s,c) => drawStripes(chart, s, cols[c], trackRows[k], false));
        text(ctx, insetTrackNames[k], X(290), Y((trackRows[k][0]+trackRows[k][1])/2), 18);
      });
      rows.forEach((r,i) => text(ctx, insetLabels[i], X(294), Y((r[0]+r[1])/2)+(i>1?2:0), 25));
      ctx.strokeStyle = '#ed1c24'; ctx.lineWidth = 3.5;
      ctx.strokeRect(X(-2.5), Y(-3), X(286)-X(-2.5), Y(285)-Y(-3));
      ctx.strokeStyle = '#231f20'; ctx.lineWidth = 2.5;
      ctx.beginPath();
      ctx.moveTo(X(250), Y(292)); ctx.lineTo(X(273), Y(292));
      ctx.moveTo(X(261.5), Y(292)); ctx.lineTo(X(261.5), Y(329));
      ctx.stroke();
      text(ctx, '7 embryo', X(261.5), Y(346), 23, { align:'center' });
      text(ctx, 'nuclei', X(261.5), Y(374), 23, { align:'center' });
    }}],
  };
}
function violinDatasets(names: string[], colors: string[], levels: number[][], widths: number[][], boxes: number[][], whiskers: number[][], outliers: number[][]) {
  const ds: any[] = [];
  names.forEach((_, i) => {
    const p = i+1;
    const poly = [
      ...levels[i].map((l,k) => ({ x:p+widths[i][k], y:l })),
      ...levels[i].slice().reverse().map((l,k,a) => ({ x:p-widths[i][a.length-1-k], y:l })),
    ];
    poly.push({ ...poly[0] });
    ds.push({ data:poly, showLine:true, fill:'shape', backgroundColor:colors[i], borderColor:'#555555', borderWidth:1, pointRadius:0, tension:.3, order:40 });
    ds.push({ data:whiskers[i].map(v=>({x:p,y:v})), showLine:true, borderColor:'#555555', borderWidth:1.2, pointRadius:0, order:30 });
    const [q1,m,q3] = boxes[i];
    const h = .038;
    if (q3-q1 > .5) {
      ds.push({ data:[{x:p-h,y:q1},{x:p+h,y:q1},{x:p+h,y:q3},{x:p-h,y:q3},{x:p-h,y:q1}], showLine:true, fill:'shape', backgroundColor:'#bdbdbd', borderColor:'#555555', borderWidth:1, pointRadius:0, order:20 });
      ds.push({ data:[{x:p-h,y:m},{x:p+h,y:m}], showLine:true, borderColor:'#333333', borderWidth:1.6, pointRadius:0, order:10 });
    }
    ds.push({ data:outliers[i].map(v=>({x:p,y:v})), showLine:false, backgroundColor:'#111111', borderWidth:0, pointRadius:2, order:5 });
  });
  return ds;
}
function violinConfig(names: string[], datasets: any[], yWidth: number, xMax: number, yPad: number) {
  return {
    type:'scatter',
    data:{ datasets },
    options:{ ...baseOptions,
      layout:{ autoPadding:false, padding:{ top:13, right:15, left:0, bottom:0 } },
      scales:{
        x:{ type:'linear', min:.4, max:xMax, afterBuildTicks:(s:any)=>{ s.ticks = names.map((_,i)=>({value:i+1})); },
            afterFit:(s:any)=>{ s.height = 108; },
            grid:{ color:'#efefef', lineWidth:1, tickLength:5, tickColor:'#9a9a9a' }, border:{display:false},
            ticks:{ autoSkip:false, minRotation:45, maxRotation:45, font:{size:23}, color:'#231f20', padding:3, labelOffset:8, callback:(v:number)=>names[v-1] ?? '' } },
        y:{ type:'linear', min:-4.2, max:105, afterBuildTicks:(s:any)=>{ s.ticks = [0,12.5,25,37.5,50,62.5,75,87.5,100].map(value=>({value})); },
            afterFit:(s:any)=>{ s.width = yWidth; },
            grid:{ color:(c:any)=>c.tick.value%25===0?'#ececec':'#f6f6f6', lineWidth:1, tickLength:4, tickColor:(c:any)=>c.tick.value%25===0?'#9a9a9a':'rgba(0,0,0,0)' }, border:{display:false},
            ticks:{ autoSkip:false, font:{size:26}, color:'#231f20', padding:yPad, callback:(v:number)=>v%25===0?String(v):'' } },
      } },
    plugins:[{ id:'frame', afterDraw(chart:any){ const {ctx,chartArea:a}=chart; ctx.save(); ctx.strokeStyle='#bdbdbd'; ctx.lineWidth=1.5; ctx.strokeRect(a.left,a.top,a.width,a.height); ctx.restore(); } }],
  };
}
function dotConfig() {
  const datasets = dotTissues.map((_,row) => ({
    data: dotClusters.map((_,c) => ({ x:c, y:row, r:dotRadii[row][c] })),
    backgroundColor: dotValues[row].map(v => ramp(cpmStops, v)),
    borderWidth:0,
  }));
  const intTicks = (n:number) => (s:any) => { s.ticks = Array.from({length:n},(_,i)=>({value:i})); };
  return {
    type:'bubble',
    data:{ datasets },
    options:{ ...baseOptions,
      layout:{ autoPadding:false, padding:{ top:25, right:222, left:0, bottom:0 } },
      scales:{
        x:{ type:'linear', position:'bottom', min:-.79, max:26.7, afterBuildTicks:intTicks(27), afterFit:(s:any)=>{ s.height=1; },
            grid:{ drawOnChartArea:false, tickLength:5, tickColor:'#333333', tickWidth:2 }, border:{display:false},
            ticks:{ display:false } },
        x2:{ type:'linear', position:'bottom', min:-.79, max:26.7, afterBuildTicks:intTicks(27), afterFit:(s:any)=>{ s.height=63; },
            grid:{ display:false }, border:{display:false},
            ticks:{ autoSkip:false, maxRotation:51, minRotation:51, font:{size:25}, color:'#111111', padding:-3, labelOffset:3, callback:(v:number)=> dotClusters[v]?.includes('_') ? dotClusters[v] : '' } },
        y:{ type:'linear', reverse:true, min:-.875, max:6.85, afterBuildTicks:intTicks(7), afterFit:(s:any)=>{ s.width=256; },
            grid:{ drawOnChartArea:false, tickLength:5, tickColor:'#333333', tickWidth:2 }, border:{display:false},
            ticks:{ autoSkip:false, font:{size:29.3}, color:'#231f20', padding:9, callback:(v:number)=>dotTissues[v] } },
      } },
    plugins:[{ id:'frame', afterDatasetsDraw(chart:any){
      const {ctx,chartArea:a,scales:{x}}=chart; ctx.save(); ctx.strokeStyle='#333333'; ctx.lineWidth=2.6; ctx.strokeRect(a.left,a.top,a.width,a.height); ctx.restore();
      dotClusters.forEach((c,i)=>{ if(!c.includes('_')) text(ctx,c,x.getPixelForValue(i),a.bottom+23,25,{align:'center',color:'#111111'}); });
    } }],
  };
}
function cpmBarConfig() {
  return {
    type:'bar',
    data:{ labels:[''], datasets:[{ data:[[0,6]] as any, barPercentage:1, categoryPercentage:1, borderWidth:0,
      backgroundColor:(c:any)=>{ const a=c.chart.chartArea; if(!a) return '#888'; const g=c.chart.ctx.createLinearGradient(0,a.bottom,0,a.top); cpmStops.forEach(([v,col])=>g.addColorStop(v/6,col)); return g; } }] },
    options:{ ...baseOptions,
      layout:{ autoPadding:false, padding:{ top:25, bottom:13, left:0, right:0 } },
      scales:{
        x:{ display:false },
        y:{ position:'right', min:0, max:6, afterBuildTicks:(s:any)=>{ s.ticks=cpmTicks.map(value=>({value})); }, afterFit:(s:any)=>{ s.width=48; },
            grid:{ display:false }, border:{display:false}, ticks:{ font:{size:25}, color:'#111111', padding:2 } },
      } },
    plugins:[{ id:'ticks', afterDatasetsDraw(chart:any){ const {ctx,chartArea:a,scales:{y}}=chart; ctx.save(); ctx.strokeStyle='rgba(255,255,255,.9)'; ctx.lineWidth=1; cpmTicks.forEach(v=>{ const p=y.getPixelForValue(v); ctx.beginPath(); ctx.moveTo(a.left,p); ctx.lineTo(a.left+4,p); ctx.moveTo(a.right-4,p); ctx.lineTo(a.right,p); ctx.stroke(); }); ctx.restore(); } }],
  };
}
function pageConfig() {
  const col1 = 1234.7, col2 = 1381, col3 = 1520;
  const add = (list:[string,string][], x:number, ys:number[]) => ({ list, x, ys });
  const groups = [
    add(genotypeLegend, col1, [67.3,105.9,144.3,183.3]),
    add(seedAgeLegend, col2, [67.3,105.9,144.3,183.3]),
    add(tissueLegend, col3, [68.7,106.3,146.3]),
    add(fansLegend, col1, [264.3,302.3,340.9]),
    add(prepLegend, col2, [264.3,301.3]),
    add(seqLegend, col2, [376.3,414.3]),
  ];
  const datasets:any[] = groups.map(g => ({
    data:g.list.map((_,i)=>({x:g.x,y:g.ys[i],r:12.5})),
    backgroundColor:g.list.map(l=>l[1]), borderWidth:0,
  }));
  const sizeYs = [1513,1553,1596,1650,1711];
  datasets.push({ data:sizeLegendR.map((r,i)=>({x:1695,y:sizeYs[i],r})), backgroundColor:'rgba(255,255,255,0)', borderColor:'#111111', borderWidth:2.2 });
  return {
    type:'bubble',
    data:{ datasets },
    options:{ ...baseOptions, scales:{ x:hiddenScale(0,1762), y:hiddenScale(0,1800,true) } },
    plugins:[{ id:'page',
      beforeDatasetsDraw(chart:any){
        const { ctx, scales:{x,y} } = chart;
        const X=(v:number)=>x.getPixelForValue(v), Y=(v:number)=>y.getPixelForValue(v);
        ctx.save();
        ctx.strokeStyle='#2b2b2b'; ctx.lineWidth=3.2; ctx.strokeRect(X(1202),Y(11),X(1680)-X(1202),Y(436)-Y(11));
        ctx.strokeStyle='#ed1c24'; ctx.lineWidth=3.5;
        ctx.beginPath(); ctx.moveTo(X(1244),Y(552)); ctx.lineTo(X(1177),Y(742)); ctx.moveTo(X(1177),Y(778)); ctx.lineTo(X(1244),Y(838)); ctx.stroke();
        const g=ctx.createLinearGradient(X(224.5),0,X(524),0);
        consensusStops.forEach(([p,c])=>g.addColorStop(p,c));
        ctx.fillStyle=g; ctx.fillRect(X(224.5),Y(891),X(524)-X(224.5),Y(933)-Y(891));
        const my=[245.7,274.5,303.6,333,362];
        maternalLegend.forEach(([label,c],i)=>{ ctx.fillStyle=c; ctx.fillRect(X(1545),Y(my[i]),X(1573.5)-X(1545),Y(my[i+1])-Y(my[i])); text(ctx,label,X(1578),Y(my[i]+15.7),25.5); });
        ctx.restore();
      },
      afterDatasetsDraw(chart:any){
        const { ctx, scales:{x,y} } = chart;
        const X=(v:number)=>x.getPixelForValue(v), Y=(v:number)=>y.getPixelForValue(v);
        const T=(s:string,px:number,py:number,size:number,o:any={})=>text(ctx,s,X(px),Y(py),size,o);
        [['a',36,26],['b',272,1033],['c',890,1030],['d',37,1416]].forEach(([s,px,py]:any)=>T(s,px,py,48,{bold:true,base:'alphabetic'}));
        T('Genotype:',1202,30,25.5,{bold:true}); T('Seed age:',1370.4,30,25.5,{bold:true}); T('Tissue:',1536,30,25.5,{bold:true});
        T('FANS peak:',1215,230,25.5,{bold:true}); T('Prep:',1395,230,25.5,{bold:true}); T('% maternal:',1523,230,25.5,{bold:true});
        T('Seq. type:',1369,342,25.5);
        const textX=[1259,1405,1544,1259,1405,1405];
        groups.forEach((g,k)=>g.list.forEach((l,i)=>T(l[0],textX[k],g.ys[i]-1,25.6)));
        T('SC3 consensus score',372,872,26,{align:'center'});
        T('less',170,905,26,{align:'center'}); T('similar',170,938,26,{align:'center'});
        T('more',573,905,26,{align:'center'}); T('similar',573,938,26,{align:'center'});
        T('21',1193,761,26,{align:'center'});
        T('% variance explained',370.7,1172,26.5,{rot:-Math.PI/2,align:'center'});
        T('% variance explained',972,1172,26.5,{rot:-Math.PI/2,align:'center'});
        T('% nuclei',1663,1443,26); T('≥1 read',1663,1477,26);
        const sizeLabelYs=[1513,1553,1598,1650,1713];
        sizeLegendPct.forEach((s,i)=>T(s,1729,sizeLabelYs[i],26));
        ctx.save(); ctx.translate(X(1620),Y(1453)); ctx.rotate(Math.PI/2); ctx.fillStyle='#231f20'; ctx.textBaseline='middle';
        ctx.font=`25.5px ${FONT}`; const a='Average log'; ctx.fillText(a,0,0); let w=ctx.measureText(a).width;
        ctx.font=`16px ${FONT}`; ctx.fillText('2',w,6); w+=ctx.measureText('2').width;
        ctx.font=`25.5px ${FONT}`; ctx.fillText('(CPM>0)',w,0); ctx.restore();
      },
    }],
  };
}
function violinB() {
  const levels=[bTissueLevels,bFansLevels,bGenoLevels,bDapLevels,bResidLevels];
  const widths=[bTissueWidths,bFansWidths,bGenoWidths,bDapWidths,bResidWidths];
  return violinConfig(bNames, violinDatasets(bNames,bColors,levels,widths,bBoxes,bWhiskers,bOutliers), 79, 5.6, 1);
}
function violinC() {
  const levels=[cTissueLevels,cGenoLevels,cFansLevels,cPrepLevels,cSeqLevels,cResidLevels];
  const widths=[cTissueWidths,cGenoWidths,cFansWidths,cPrepWidths,cSeqWidths,cResidWidths];
  return violinConfig(cNames, violinDatasets(cNames,cColors,levels,widths,cBoxes,cWhiskers,cOutliers), 76.6, 6.59, 3);
}

const panels: { left:number; top:number; width:number; height:number; make:()=>any; soft?:boolean }[] = [
  { left:0, top:0, width:1762, height:1800, make:pageConfig },
  { left:mainLeft, top:mainTop, width:1180-mainLeft, height:990, make:heatConfig, soft:true },
  { left:1240, top:450, width:400, height:500, make:insetConfig, soft:true },
  { left:355, top:986, width:435, height:434, make:violinB },
  { left:956, top:986, width:492, height:434, make:violinC },
  { left:0, top:1420, width:1762, height:380, make:dotConfig },
  { left:1549, top:1420, width:70, height:335, make:cpmBarConfig },
];

function Panel({ left, top, width, height, make, soft }: any) {
  const ref = useRef<HTMLCanvasElement>(null);
  useEffect(() => {
    const chart = new Chart(ref.current as HTMLCanvasElement, make());
    return () => chart.destroy();
  }, []);
  return <canvas ref={ref} width={width} height={height} style={{ position:'absolute', left, top, width, height, filter: soft ? 'blur(0.45px)' : undefined }} />;
}

export default function App() {
  return (
    <div style={{ position:'absolute', left:0, top:0, width:1762, height:1800, background:'#fff', overflow:'hidden' }}>
      {panels.map((p,i) => <Panel key={i} {...p} />)}
    </div>
  );
}
